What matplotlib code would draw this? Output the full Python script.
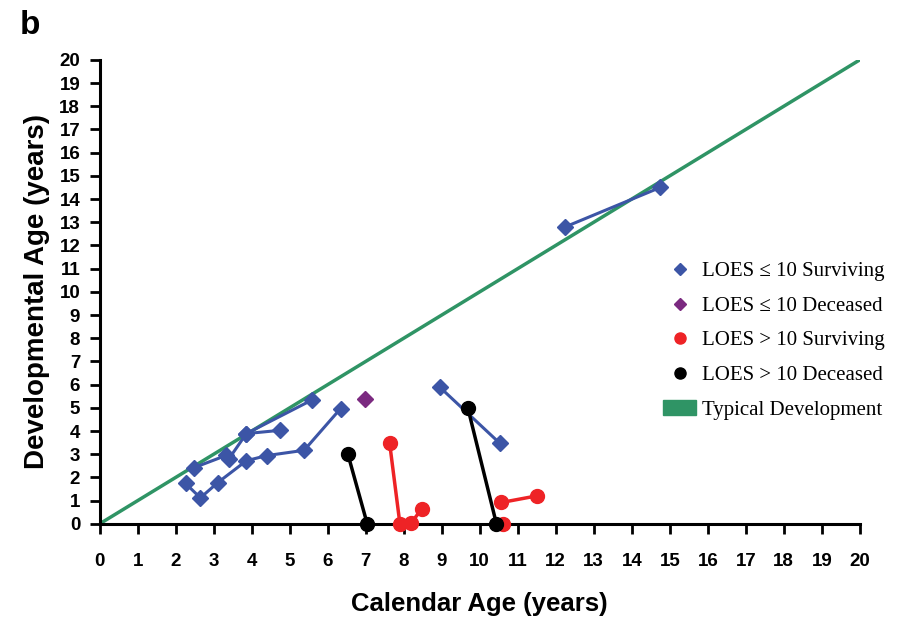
import matplotlib.pyplot as plt
from matplotlib.lines import Line2D
from matplotlib.patches import Patch

# LOES <= 10, surviving (one list per patient track)
blue_tracks = [
    ([2.48, 3.33, 3.40, 3.86, 5.60], [2.42, 2.95, 2.80, 3.89, 5.35]),
    ([3.86, 4.74], [3.89, 4.03]),
    ([2.26, 2.65, 3.11, 3.86, 4.39, 5.38, 6.34], [1.74, 1.12, 1.78, 2.72, 2.94, 3.17, 4.97]),
    ([8.95, 10.53], [5.89, 3.47]),
    ([12.25, 14.75], [12.80, 14.50]),
]
# LOES <= 10, deceased
purple_x = [6.97]
purple_y = [5.40]
# LOES > 10, surviving
red_tracks = [
    ([7.63, 7.90, 8.20, 8.47], [3.47, 0.0, 0.05, 0.63]),
    ([10.57, 11.52], [0.92, 1.21]),
    ([10.61], [0.0]),
]
# LOES > 10, deceased
black_tracks = [
    ([6.53, 7.04], [3.01, 0.0]),
    ([9.69, 10.44], [4.98, 0.0]),
]

blue = '#3c55a6'
purple = '#7b2a80'
red = '#ee2326'
green = '#2f9465'

plt.rcParams['font.family'] = ['Liberation Sans', 'DejaVu Sans']

fig = plt.figure(figsize=(9.06, 6.17), dpi=100)
ax = fig.add_axes([0.110, 0.151, 0.839, 0.752])

ax.plot([0, 20], [0, 20], color=green, lw=2.5, zorder=1)

for xs, ys in blue_tracks:
    ax.plot(xs, ys, color=blue, lw=2.2, marker='D', ms=8, mec=blue, clip_on=False, zorder=3)
ax.plot(purple_x, purple_y, ls='none', color=purple, marker='D', ms=8, clip_on=False, zorder=3)
for xs, ys in red_tracks:
    ax.plot(xs, ys, color=red, lw=2.5, marker='o', ms=10, clip_on=False, zorder=3)
for xs, ys in black_tracks:
    ax.plot(xs, ys, color='black', lw=2.5, marker='o', ms=10, clip_on=False, zorder=4)

ax.set_xlim(0, 20)
ax.set_ylim(0, 20)
ax.set_xticks(range(0, 21))
ax.set_yticks(range(0, 21))
for s in ['top', 'right']:
    ax.spines[s].set_visible(False)
for s in ['left', 'bottom']:
    ax.spines[s].set_linewidth(2.2)
ax.tick_params(direction='out', length=7, width=2, labelsize=13.5)
ax.tick_params(axis='x', pad=14)
ax.tick_params(axis='y', pad=7)
for lab in ax.get_xticklabels() + ax.get_yticklabels():
    lab.set_fontweight('bold')

ax.set_xlabel('Calendar Age (years)', fontsize=18.5, fontweight='bold', labelpad=16)
ax.set_ylabel('Developmental Age (years)', fontsize=20, fontweight='bold', labelpad=7)

fig.text(0.022, 0.945, 'b', fontsize=24, fontweight='bold')

handles = [
    Line2D([], [], ls='none', marker='D', ms=6, color=blue),
    Line2D([], [], ls='none', marker='D', ms=6, color=purple),
    Line2D([], [], ls='none', marker='o', ms=8, color=red),
    Line2D([], [], ls='none', marker='o', ms=8, color='black'),
    Patch(color=green),
]
labels = ['LOES \u2264 10 Surviving', 'LOES \u2264 10 Deceased', 'LOES > 10 Surviving',
          'LOES > 10 Deceased', 'Typical Development']
ax.legend(handles, labels, loc='upper left', bbox_to_anchor=(0.73, 0.583), frameon=False,
          prop={'family': 'Liberation Serif', 'size': 15}, labelspacing=0.72,
          handlelength=1.6, handletextpad=0.3, borderaxespad=0)

fig.savefig('out.png', dpi=100)
